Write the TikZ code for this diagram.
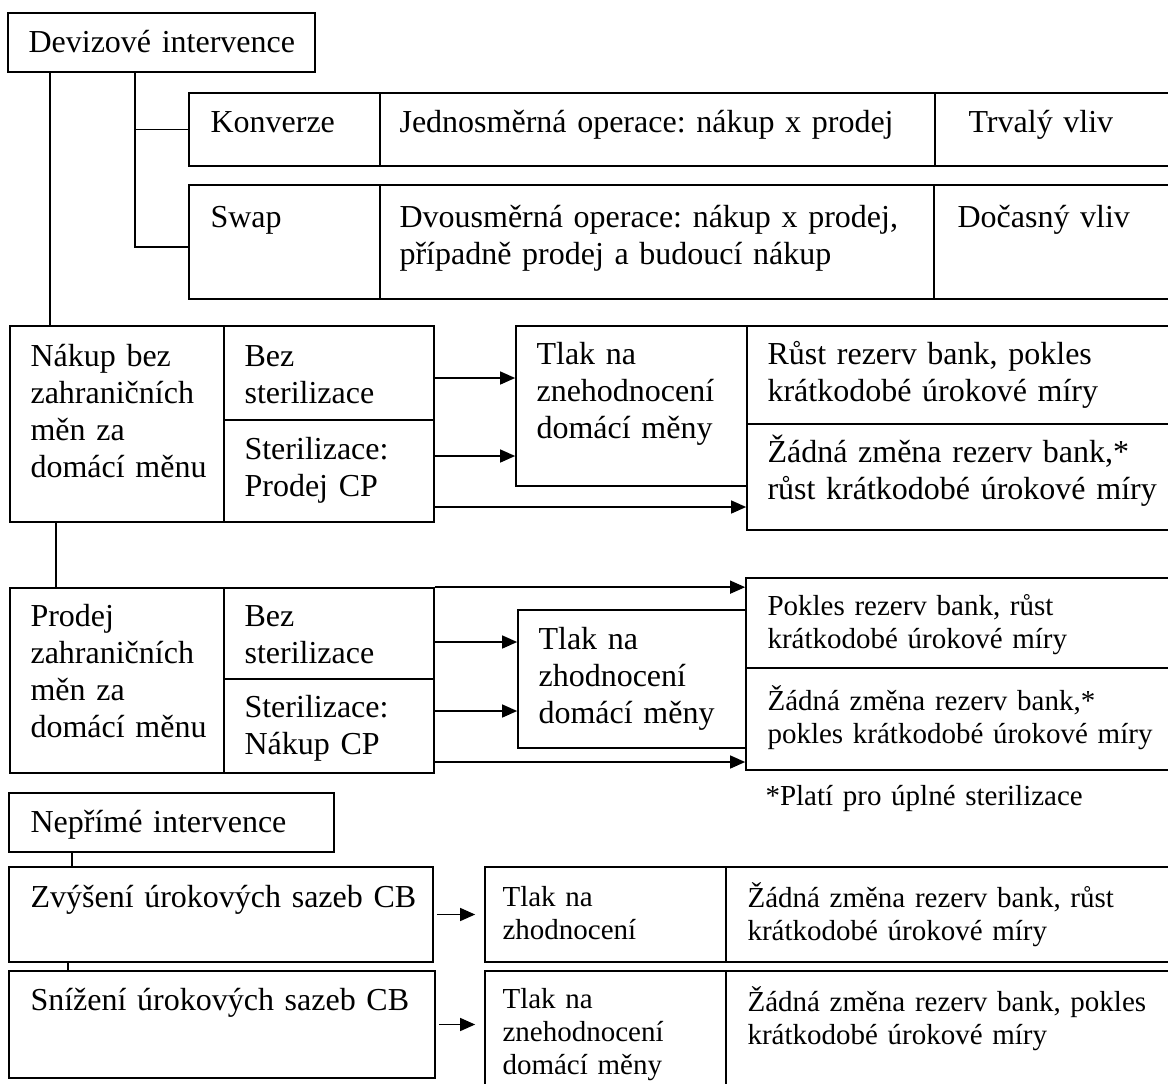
\documentclass[tikz,border=0pt]{standalone}
\usepackage{fontspec}
\setmainfont{Liberation Serif}
\usetikzlibrary{arrows.meta, fit}
\newcommand{\bigtext}{\fontsize{16pt}{18.5pt}\selectfont}
\newcommand{\smalltext}{\fontsize{14.5pt}{16.5pt}\selectfont}
\frenchspacing

\begin{document}
\begin{tikzpicture}[x=0.5pt, y=-0.5pt, >={Triangle[length=7.5pt,width=6.5pt]},
  cell/.style={rectangle, draw, line width=0.85pt, inner sep=0pt, fit={#1}},
  txt/.style={anchor=base west, inner sep=0pt, text width=12cm, align=left, font=\bigtext},
  stxt/.style={txt, font=\smalltext},
  link/.style={line width=0.7pt},
  arr/.style={->, line width=0.7pt}]
  \useasboundingbox (0,0) rectangle (1168,1083);
  \clip (0,0) rectangle (1168,1083);

  % Devizove intervence
  \node[cell={(8,13) (315,72)}] (dev) {};
  \node[txt] (devtxt) at ([shift={(21,40)}]dev.north west) {Devizové intervence};

  \node[cell={(189,93) (380,166)}] (konv) {};
  \node[cell={(380,93) (935,166)}] (konvop) {};
  \node[cell={(935,93) (1180,166)}] (konvvl) {};
  \node[txt] (konvtxt) at ([shift={(22,40)}]konv.north west) {Konverze};
  \node[txt] (konvoptxt) at ([shift={(20,40)}]konvop.north west) {Jednosměrná operace: nákup x prodej};
  \node[txt] (konvvltxt) at ([shift={(34,40)}]konvvl.north west) {Trvalý vliv};

  \node[cell={(189,185) (380,299)}] (swp) {};
  \node[cell={(380,185) (934,299)}] (swpop) {};
  \node[cell={(934,185) (1180,299)}] (swpvl) {};
  \node[txt] (swptxt) at ([shift={(22,43)}]swp.north west) {Swap};
  \node[txt] (swpoptxt) at ([shift={(20,43)}]swpop.north west) {Dvousměrná operace: nákup x prodej,\\případně prodej a budoucí nákup};
  \node[txt] (swpvltxt) at ([shift={(24,43)}]swpvl.north west) {Dočasný vliv};

  % Nakup
  \node[cell={(10,326) (224,522)}] (nak) {};
  \node[cell={(224,326) (434,420)}] (bez1) {};
  \node[cell={(224,420) (434,522)}] (ster1) {};
  \node[cell={(516,326) (747,486)}] (tlak1) {};
  \node[cell={(747,326) (1180,424)}] (rust1) {};
  \node[cell={(747,424) (1180,530)}] (zad1) {};
  \node[txt] (naktxt) at ([shift={(21,41)}]nak.north west) {Nákup bez\\zahraničních\\měn za\\domácí měnu};
  \node[txt] (bez1txt) at ([shift={(21,41)}]bez1.north west) {Bez\\sterilizace};
  \node[txt] (ster1txt) at ([shift={(21,40)}]ster1.north west) {Sterilizace:\\Prodej CP};
  \node[txt] (tlak1txt) at ([shift={(21,39)}]tlak1.north west) {Tlak na\\znehodnocení\\domácí měny};
  \node[txt] (rust1txt) at ([shift={(21,39)}]rust1.north west) {Růst rezerv bank, pokles\\krátkodobé úrokové míry};
  \node[txt] (zad1txt) at ([shift={(21,39)}]zad1.north west) {Žádná změna rezerv bank,*\\růst krátkodobé úrokové míry};

  % Prodej
  \node[cell={(10,588) (224,773)}] (prod) {};
  \node[cell={(224,588) (434,679)}] (bez2) {};
  \node[cell={(224,679) (434,773)}] (ster2) {};
  \node[cell={(518,610) (746,748)}] (tlak2) {};
  \node[cell={(746,578) (1180,668)}] (pok2) {};
  \node[cell={(746,668) (1180,770)}] (zad2) {};
  \node[txt] (prodtxt) at ([shift={(21,39)}]prod.north west) {Prodej\\zahraničních\\měn za\\domácí měnu};
  \node[txt] (bez2txt) at ([shift={(21,39)}]bez2.north west) {Bez\\sterilizace};
  \node[txt] (ster2txt) at ([shift={(21,39)}]ster2.north west) {Sterilizace:\\Nákup CP};
  \node[txt] (tlak2txt) at ([shift={(21,40)}]tlak2.north west) {Tlak na\\zhodnocení\\domácí měny};
  \node[stxt] (pok2txt) at ([shift={(22,38)}]pok2.north west) {Pokles rezerv bank, růst\\krátkodobé úrokové míry};
  \node[stxt] (zad2txt) at ([shift={(22,43)}]zad2.north west) {Žádná změna rezerv bank,*\\pokles krátkodobé úrokové míry};
  \node[stxt] (note) at ([shift={(20,35)}]zad2.south west) {*Platí pro úplné sterilizace};

  % Neprime intervence
  \node[cell={(9,793) (334,852)}] (nep) {};
  \node[cell={(9,867) (433,962)}] (zvy) {};
  \node[cell={(9,971) (435,1078)}] (sniz) {};
  \node[cell={(485,867) (726,962)}] (tlak3) {};
  \node[cell={(726,867) (1180,962)}] (zad3) {};
  \node[cell={(485,971) (726,1095)}] (tlak4) {};
  \node[cell={(726,971) (1180,1095)}] (zad4) {};
  \node[txt] (neptxt) at ([shift={(22,40)}]nep.north west) {Nepřímé intervence};
  \node[txt] (zvytxt) at ([shift={(22,41)}]zvy.north west) {Zvýšení úrokových sazeb CB};
  \node[txt] (sniztxt) at ([shift={(22,40)}]sniz.north west) {Snížení úrokových sazeb CB};
  \node[stxt] (tlak3txt) at ([shift={(18,40)}]tlak3.north west) {Tlak na\\zhodnocení};
  \node[stxt] (zad3txt) at ([shift={(22,41)}]zad3.north west) {Žádná změna rezerv bank, růst\\krátkodobé úrokové míry};
  \node[stxt] (tlak4txt) at ([shift={(18,38)}]tlak4.north west) {Tlak na\\znehodnocení\\domácí měny};
  \node[stxt] (zad4txt) at ([shift={(22,41)}]zad4.north west) {Žádná změna rezerv bank, pokles\\krátkodobé úrokové míry};

  % connectors
  \draw[link] (dev.south -| 50,0) -- (nak.north -| 50,0);
  \draw[link] (dev.south -| 135,0) |- (swp.west |- 0,247);
  \draw[link] (konv.west) -- (konv.west -| 135,0);
  \draw[arr] (bez1.east |- 0,378) -- (tlak1.west |- 0,378);
  \draw[arr] (ster1.east |- 0,456) -- (tlak1.west |- 0,456);
  \draw[arr] (ster1.east |- 0,507) -- (zad1.west |- 0,507);
  \draw[link] (nak.south -| 56,0) -- (prod.north -| 56,0);
  \draw[arr] (bez2.north east) -- (bez2.north east -| pok2.west);
  \draw[arr] (bez2.east |- 0,642) -- (tlak2.west |- 0,642);
  \draw[arr] (ster2.east |- 0,711) -- (tlak2.west |- 0,711);
  \draw[arr] (ster2.east |- 0,762) -- (zad2.west |- 0,762);
  \draw[link] (nep.south -| 72,0) -- (zvy.north -| 72,0);
  \draw[link] (zvy.south -| 68,0) -- (sniz.north -| 68,0);
  \draw[arr, shorten <=1.5pt, shorten >=4.5pt] (zvy.east) -- (tlak3.west);
  \draw[arr, shorten <=1.5pt, shorten >=4.5pt] (sniz.east) -- (tlak4.west |- sniz.east);
\end{tikzpicture}
\end{document}
